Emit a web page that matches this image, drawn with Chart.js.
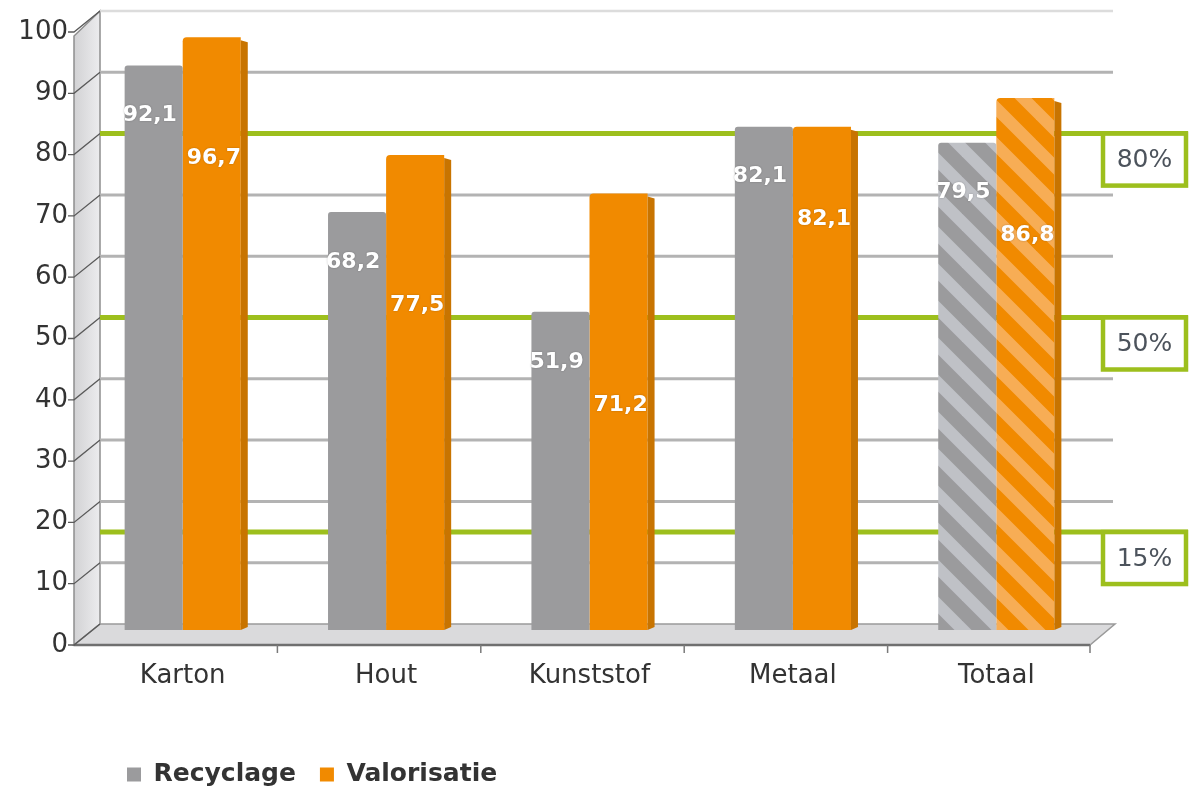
<!DOCTYPE html>
<html>
<head>
<meta charset="utf-8">
<script src="https://cdn.jsdelivr.net/npm/chart.js@4.4.0/dist/chart.umd.min.js"></script>
<style>
  html, body { margin: 0; padding: 0; background: #ffffff; }
  #wrap { width: 1190px; height: 794px; position: relative; }
</style>
</head>
<body>
<div id="wrap"><canvas id="chart"></canvas></div>
<script>
// Recycling and recovery rates per packaging material (%)
const categories = ['Karton', 'Hout', 'Kunststof', 'Metaal', 'Totaal'];
const seriesNames = ['Recyclage', 'Valorisatie'];
const recyclage = [92.1, 68.2, 51.9, 82.1, 79.5];
const valorisatie = [96.7, 77.5, 71.2, 82.1, 86.8];
const yMin = 0, yMax = 100, yStep = 10;
const targetValues = [80, 50, 15];
const targetLabels = ['80%', '50%', '15%'];
const totalCategory = 'Totaal';

const GREY = '#9b9b9d';
const GREY_LIGHT = '#bfc1c6';
const ORANGE = '#f18a00';
const ORANGE_LIGHT = '#f7ad55';
const ORANGE_SIDE = '#c87400';
const GREEN = '#9dbf1d';
const GRID = '#b3b3b3';
const TEXT = '#333333';
const FONT = '"DejaVu Sans", "Liberation Sans", Arial, sans-serif';

// 3D depth of the plot: back plane sits above/right, front plane below/left
const BACK_DY = -6, FRONT_DY = 15, BACK_DX = 19, FRONT_DX = -7;

function stripes(base, light) {
  const s = 37;
  const p = document.createElement('canvas');
  p.width = s; p.height = s;
  const g = p.getContext('2d');
  g.fillStyle = base; g.fillRect(0, 0, s, s);
  g.strokeStyle = light; g.lineWidth = 12;
  for (let k = -1; k <= 1; k++) {
    g.beginPath();
    g.moveTo(k * s - s, -s);
    g.lineTo(k * s + 2 * s, 2 * s);
    g.stroke();
  }
  return g.createPattern(p, 'repeat');
}
const greyStripes = stripes(GREY, GREY_LIGHT);
const orangeStripes = stripes(ORANGE, ORANGE_LIGHT);

const fmt = v => v.toFixed(1).replace('.', ',');

const scenePlugin = {
  id: 'scene3d',
  afterLayout(chart) {
    const lg = chart.legend;
    if (lg) {
      const h = lg.height;
      lg.left = 103;
      lg.top = 738;
      lg.bottom = lg.top + h;
    }
  },
  beforeDatasetsDraw(chart) {
    const { ctx, chartArea: a, scales: { x, y } } = chart;
    const backX = a.left + BACK_DX, frontX = a.left + FRONT_DX;
    const rightBack = a.right + 17, rightFront = a.right - 8;
    const y0 = y.getPixelForValue(yMin), y1 = y.getPixelForValue(yMax);
    ctx.save();

    // side wall
    const wg = ctx.createLinearGradient(frontX, 0, backX, 0);
    wg.addColorStop(0, '#d2d2d4');
    wg.addColorStop(1, '#ececee');
    ctx.fillStyle = wg;
    ctx.beginPath();
    ctx.moveTo(backX, y1 + BACK_DY);
    ctx.lineTo(backX, y0 + BACK_DY);
    ctx.lineTo(frontX, y0 + FRONT_DY);
    ctx.lineTo(frontX, y1 + FRONT_DY + 4);
    ctx.closePath();
    ctx.fill();
    ctx.strokeStyle = '#8e8e8e';
    ctx.lineWidth = 1.5;
    ctx.stroke();

    // floor
    ctx.fillStyle = '#dadadc';
    ctx.beginPath();
    ctx.moveTo(backX, y0 + BACK_DY);
    ctx.lineTo(rightBack, y0 + BACK_DY);
    ctx.lineTo(rightFront, y0 + FRONT_DY);
    ctx.lineTo(frontX, y0 + FRONT_DY);
    ctx.closePath();
    ctx.fill();
    ctx.strokeStyle = '#9a9a9a';
    ctx.lineWidth = 1.5;
    ctx.stroke();
    ctx.strokeStyle = '#6f6f6f';
    ctx.lineWidth = 2.5;
    ctx.beginPath();
    ctx.moveTo(frontX, y0 + FRONT_DY);
    ctx.lineTo(rightFront, y0 + FRONT_DY);
    ctx.stroke();

    // category separators on the floor edge
    ctx.lineWidth = 1.5;
    ctx.strokeStyle = '#7a7a7a';
    for (let i = 1; i <= categories.length; i++) {
      const bx = i < categories.length
        ? (x.getPixelForValue(i - 1) + x.getPixelForValue(i)) / 2 - 7
        : rightFront;
      ctx.beginPath();
      ctx.moveTo(bx, y0 + FRONT_DY);
      ctx.lineTo(bx, y0 + FRONT_DY + 8);
      ctx.stroke();
    }

    // back-wall grid lines and wall tick connectors
    for (let v = yMin; v <= yMax; v += yStep) {
      const py = y.getPixelForValue(v);
      if (v > yMin && !targetValues.includes(v)) {
        ctx.strokeStyle = v === yMax ? '#dcdcdc' : GRID;
        ctx.lineWidth = v === yMax ? 2.5 : 3;
        ctx.beginPath();
        ctx.moveTo(backX, py + BACK_DY);
        ctx.lineTo(rightBack - 2, py + BACK_DY);
        ctx.stroke();
      }
      ctx.strokeStyle = '#5a5a5a';
      ctx.lineWidth = 1.3;
      ctx.beginPath();
      ctx.moveTo(frontX - 6, py + FRONT_DY);
      ctx.lineTo(frontX, py + FRONT_DY);
      ctx.lineTo(backX, py + BACK_DY);
      ctx.stroke();
    }

    // target lines with boxed labels
    const boxL = 1101, boxR = 1188, boxH = 52;
    targetValues.forEach((v, i) => {
      const py = y.getPixelForValue(v) + BACK_DY;
      ctx.strokeStyle = GREEN;
      ctx.lineWidth = 5;
      ctx.beginPath();
      ctx.moveTo(backX, py);
      ctx.lineTo(boxR, py);
      ctx.stroke();
      ctx.fillStyle = '#ffffff';
      ctx.fillRect(boxL, py, boxR - boxL, boxH);
      ctx.lineWidth = 4.5;
      ctx.strokeRect(boxL + 2, py, boxR - boxL - 4, boxH);
      ctx.fillStyle = '#4c535c';
      ctx.font = '25px ' + FONT;
      ctx.textAlign = 'center';
      ctx.textBaseline = 'middle';
      ctx.fillText(targetLabels[i], (boxL + boxR) / 2, py + boxH / 2 + 1);
    });
    ctx.restore();
  },
  afterDatasetsDraw(chart) {
    const { ctx } = chart;
    const mg = chart.getDatasetMeta(0), mo = chart.getDatasetMeta(1);
    ctx.save();
    // right-hand side face of the front bars
    mo.data.forEach(b => {
      const r = b.x + b.width / 2;
      ctx.fillStyle = ORANGE_SIDE;
      ctx.beginPath();
      ctx.moveTo(r, b.y + 3);
      ctx.lineTo(r + 7, b.y + 5);
      ctx.lineTo(r + 7, b.base - 3);
      ctx.lineTo(r, b.base);
      ctx.closePath();
      ctx.fill();
    });
    // value labels
    ctx.font = 'bold 22px ' + FONT;
    ctx.fillStyle = '#ffffff';
    ctx.textAlign = 'left';
    ctx.textBaseline = 'middle';
    ctx.shadowColor = 'rgba(0,0,0,0.25)';
    ctx.shadowBlur = 2;
    mg.data.forEach((b, i) => {
      const ly = b.y + 50;
      ctx.fillText(fmt(recyclage[i]), b.x - b.width / 2 - 2, ly);
      const o = mo.data[i];
      ctx.fillText(fmt(valorisatie[i]), o.x - o.width / 2 + 4, ly + 43);
    });
    ctx.restore();
  }
};

const fillFor = (base, pattern) => c =>
  (c.dataIndex !== undefined && categories[c.dataIndex] === totalCategory) ? pattern : base;

new Chart(document.getElementById('chart'), {
  type: 'bar',
  data: {
    labels: categories,
    datasets: [
      {
        label: seriesNames[0],
        data: recyclage,
        backgroundColor: fillFor(GREY, greyStripes),
        borderRadius: { topLeft: 3, topRight: 3 },
        borderSkipped: 'bottom'
      },
      {
        label: seriesNames[1],
        data: valorisatie,
        backgroundColor: fillFor(ORANGE, orangeStripes),
        borderRadius: { topLeft: 4, topRight: 0 },
        borderSkipped: 'bottom'
      }
    ]
  },
  options: {
    responsive: true,
    maintainAspectRatio: false,
    animation: false,
    categoryPercentage: 0.571,
    barPercentage: 1,
    layout: { padding: { top: 17, right: 92, left: 0, bottom: 0 } },
    plugins: {
      legend: {
        position: 'bottom',
        align: 'start',
        labels: {
          boxWidth: 14,
          boxHeight: 14,
          padding: 24,
          color: TEXT,
          font: { family: FONT, size: 25, weight: 'bold' }
        }
      },
      tooltip: { enabled: false }
    },
    scales: {
      x: {
        grid: { display: false, drawTicks: false },
        border: { display: false },
        ticks: { color: TEXT, padding: 31, font: { family: FONT, size: 26 } },
        afterFit(scale) {
          const lg = scale.chart.legend;
          scale.height = scale.chart.height - 630 - (lg ? lg.height : 0);
        }
      },
      y: {
        min: yMin,
        max: yMax,
        grid: { display: false, drawTicks: false },
        border: { display: false },
        ticks: {
          stepSize: yStep,
          color: TEXT,
          padding: 13,
          labelOffset: FRONT_DY,
          font: { family: FONT, size: 26 }
        },
        afterFit(scale) {
          scale.width = 81;
          scale.paddingTop = 0;
          scale.paddingBottom = 0;
        }
      }
    }
  },
  plugins: [scenePlugin]
});
</script>
</body>
</html>
